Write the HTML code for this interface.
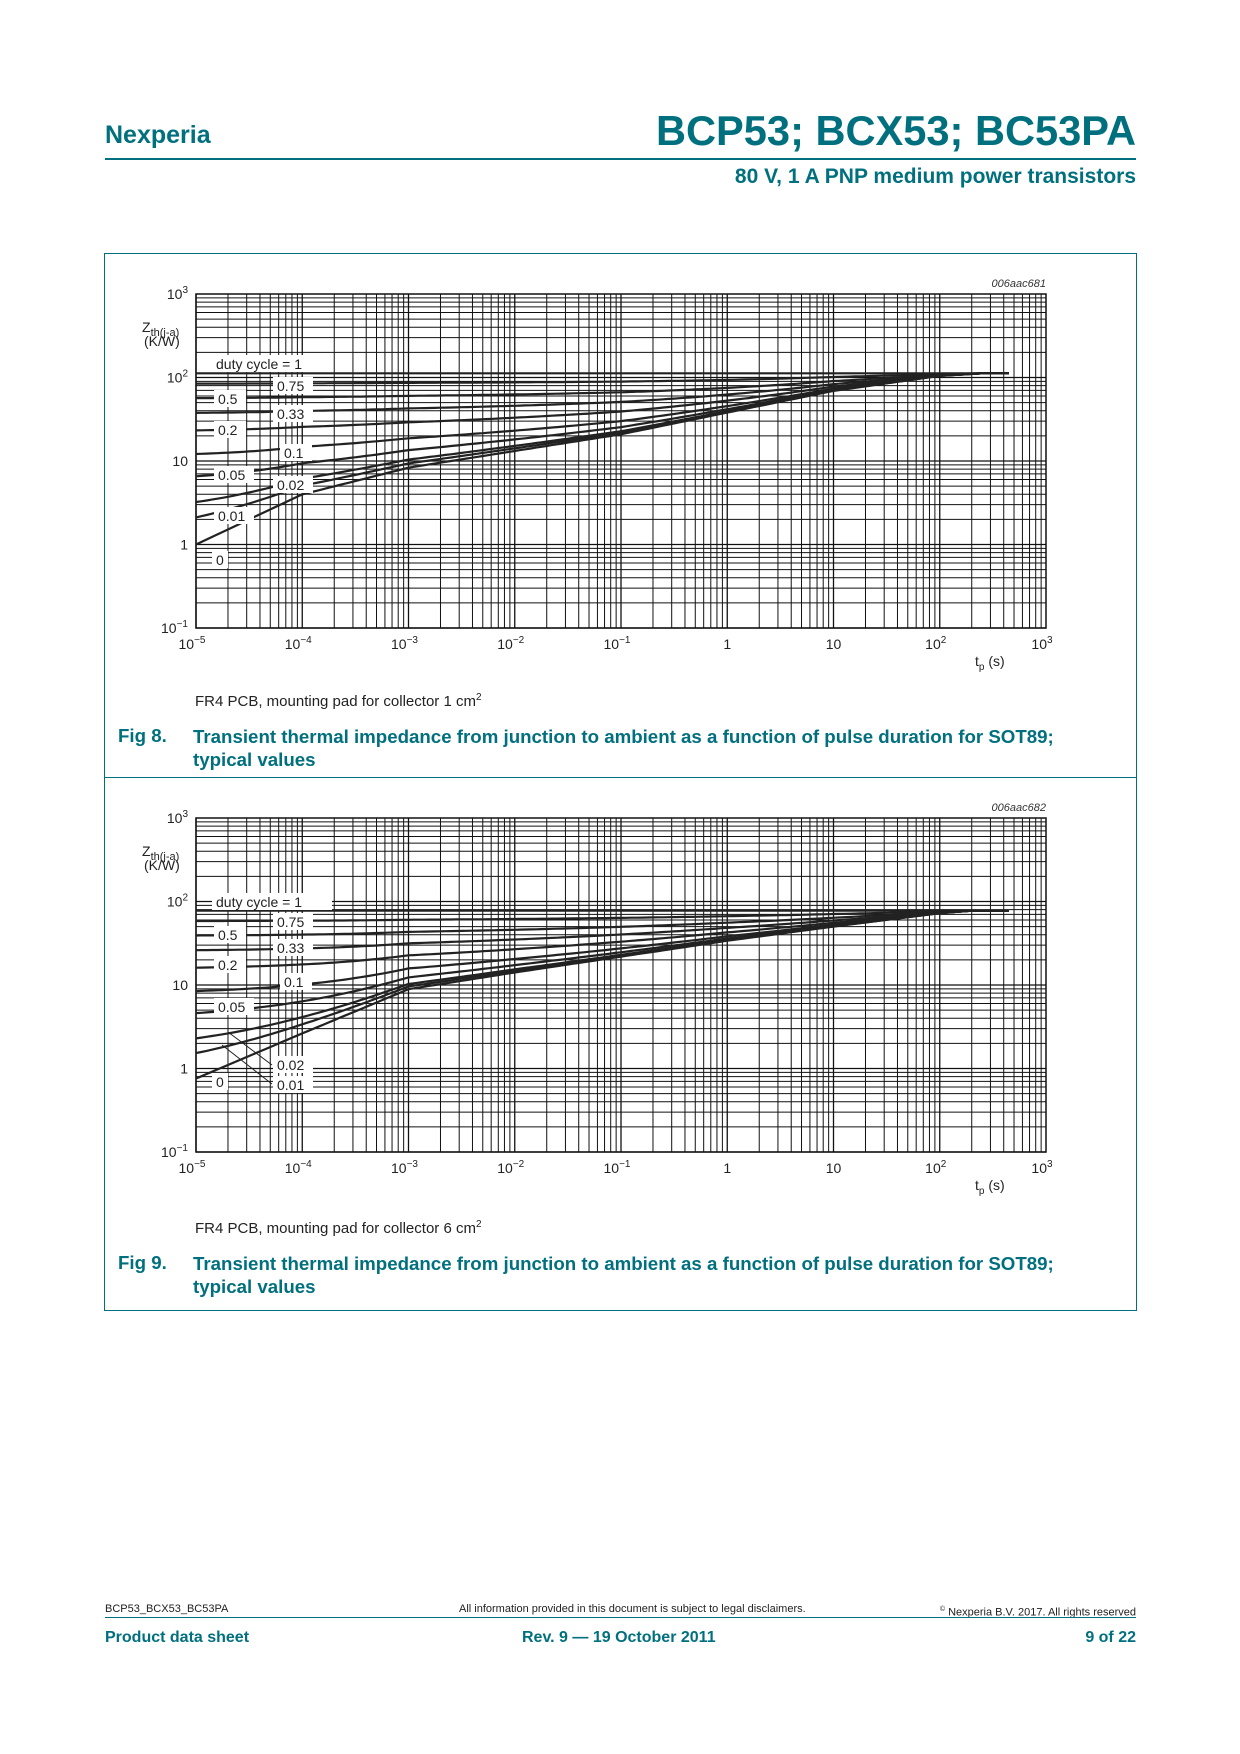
<!DOCTYPE html>
<html><head><meta charset="utf-8">
<style>
body{margin:0;background:#fff;width:1240px;height:1754px;position:relative;overflow:hidden;font-family:"Liberation Sans",Arial,sans-serif;}
.t{position:absolute;white-space:nowrap;color:#00707f;font-weight:bold;}
svg{position:absolute;left:0;top:0;}
</style></head><body>
<div class="t" style="left:105px;top:121px;font-size:25px;">Nexperia</div>
<div class="t" style="right:104px;top:107px;font-size:41.6px;">BCP53; BCX53; BC53PA</div>
<div style="position:absolute;left:105px;top:158px;width:1031px;height:2px;background:#00707f"></div>
<div class="t" style="right:104px;top:165px;font-size:21px;">80 V, 1 A PNP medium power transistors</div>

<div style="position:absolute;left:104px;top:253px;width:1031px;height:1056px;border:1px solid #00707f"></div>
<div style="position:absolute;left:104px;top:777px;width:1032px;height:1px;background:#00707f"></div>

<div style="position:absolute;left:195px;top:692px;font-size:15px;color:#222">FR4 PCB, mounting pad for collector 1 cm<sup style="font-size:10px">2</sup></div>
<div class="t" style="left:118px;top:725px;font-size:18.7px;">Fig 8.</div>
<div class="t" style="left:193px;top:725px;font-size:18.7px;line-height:23px;">Transient thermal impedance from junction to ambient as a function of pulse duration for SOT89;<br>typical values</div>

<div style="position:absolute;left:195px;top:1219px;font-size:15px;color:#222">FR4 PCB, mounting pad for collector 6 cm<sup style="font-size:10px">2</sup></div>
<div class="t" style="left:118px;top:1252px;font-size:18.7px;">Fig 9.</div>
<div class="t" style="left:193px;top:1252px;font-size:18.7px;line-height:23px;">Transient thermal impedance from junction to ambient as a function of pulse duration for SOT89;<br>typical values</div>

<div style="position:absolute;left:105px;top:1603px;font-size:11px;color:#222">BCP53_BCX53_BC53PA</div>
<div style="position:absolute;left:459px;top:1603px;font-size:11px;color:#222">All information provided in this document is subject to legal disclaimers.</div>
<div style="position:absolute;right:104px;top:1606px;font-size:11px;color:#222"><sup style="font-size:7px">©</sup> Nexperia B.V. 2017. All rights reserved</div>
<div style="position:absolute;left:105px;top:1617px;width:1031px;height:1px;background:#00707f"></div>
<div class="t" style="left:105px;top:1629px;font-size:16px;">Product data sheet</div>
<div class="t" style="left:522px;top:1629px;font-size:16px;">Rev. 9 — 19 October 2011</div>
<div class="t" style="right:104px;top:1629px;font-size:16px;">9 of 22</div>

<svg id="s" width="1240" height="1754" xmlns="http://www.w3.org/2000/svg"></svg>
<script>
var s=document.getElementById('s'),h='';
function chart(top,id,Rl,Z0,labels,extra){
 var L=196,R=1046,B=top+334,dx=106.25,dy=83.5;
 function X(l){return L+(l+5)*dx} function Y(l){return B-(l+1)*dy}
 for(var d=-5;d<3;d++)for(var k=1;k<10;k++){var x=X(d+Math.log10(k));h+='<line x1="'+x+'" y1="'+top+'" x2="'+x+'" y2="'+B+'" stroke="#111" stroke-width="'+(k==1?1.3:1)+'"/>';}
 for(var d=-1;d<3;d++)for(var k=1;k<10;k++){var y=Y(d+Math.log10(k));h+='<line x1="'+L+'" y1="'+y+'" x2="'+R+'" y2="'+y+'" stroke="#111" stroke-width="'+(k==1?1.3:1)+'"/>';}
 h+='<rect x="'+L+'" y="'+top+'" width="'+(R-L)+'" height="'+(B-top)+'" fill="none" stroke="#111" stroke-width="1.5"/>';
 var yl=[['10','−1',-1],['1','',0],['10','',1],['10','2',2],['10','3',3]];
 yl.forEach(function(a){h+='<text x="188" y="'+(Y(a[2])+5)+'" font-size="14" text-anchor="end" fill="#222">'+a[0]+(a[1]?'<tspan dy="-6" font-size="10">'+a[1]+'</tspan>':'')+'</text>';});
 var xl=[['10','−5'],['10','−4'],['10','−3'],['10','−2'],['10','−1'],['1',''],['10',''],['10','2'],['10','3']];
 xl.forEach(function(a,i){h+='<text x="'+(X(i-5)-(a[1]?4:0))+'" y="'+(B+21)+'" font-size="14" text-anchor="middle" fill="#222">'+a[0]+(a[1]?'<tspan dy="-6" font-size="10">'+a[1]+'</tspan>':'')+'</text>';});
 h+='<text x="975" y="'+(B+38)+'" font-size="14" fill="#222">t<tspan dy="4" font-size="10">p</tspan><tspan dy="-4"> (s)</tspan></text>';
 h+='<text x="142" y="'+(top+38)+'" font-size="14" fill="#222">Z<tspan dy="4" font-size="11">th(j-a)</tspan></text>';
 h+='<text x="144" y="'+(top+52)+'" font-size="14" fill="#222">(K/W)</text>';
 h+='<text x="1046" y="'+(top-7)+'" font-size="11" font-style="italic" text-anchor="end" fill="#333">'+id+'</text>';
 var Rth=Math.pow(10,Rl);
 function z0(l){for(var i=0;i<Z0.length-1;i++){if(l<=Z0[i+1][0]){var a=Z0[i],b=Z0[i+1];return a[1]+(b[1]-a[1])*(l-a[0])/(b[0]-a[0]);}}return Z0[Z0.length-1][1];}
 [1,0.75,0.5,0.33,0.2,0.1,0.05,0.02,0.01,0].forEach(function(D){
  var p='';for(var l=-5;l<=2.67;l+=0.05){var z=D*Rth+(1-D)*Math.pow(10,Math.min(z0(l),Rl));p+=(p?'L':'M')+X(l).toFixed(1)+','+Y(Math.log10(z)).toFixed(1);}
  h+='<path d="'+p+'" fill="none" stroke="#222" stroke-width="2.2"/>';});
 extra&&extra(X,Y);
 labels.forEach(function(a){var w=a[0].length*8+8;h+='<rect x="'+(a[1]-4)+'" y="'+(a[2]-9)+'" width="'+w+'" height="17" fill="#fff"/><text x="'+a[1]+'" y="'+(a[2]+5)+'" font-size="14" fill="#222">'+a[0]+'</text>';});
}
chart(294,'006aac681',2.05,[[-5,0],[-4,0.6],[-3,0.92],[-2,1.12],[-1,1.32],[0,1.58],[1,1.84],[2,2.02],[2.4,2.05]],
 [['duty cycle = 1',216,364],['0.75',277,386],['0.5',218,399],['0.33',277,414],['0.2',218,430],['0.1',284,453],['0.05',218,475],['0.02',277,485],['0.01',218,516],['0',216,560]]);
chart(818,'006aac682',1.89,[[-5,-0.12],[-4,0.42],[-3,0.95],[-2,1.15],[-1,1.34],[0,1.53],[1,1.7],[2,1.86],[2.3,1.89]],
 [['duty cycle = 1',216,902],['0.75',277,922],['0.5',218,935],['0.33',277,948],['0.2',218,965],['0.1',284,982],['0.05',218,1007],['0.02',277,1065],['0.01',277,1085],['0',216,1082]],
 function(X,Y){h+='<line x1="228" y1="1032" x2="272" y2="1065" stroke="#222"/><line x1="222" y1="1045" x2="272" y2="1084" stroke="#222"/>';});
s.innerHTML=h;
</script>
</body></html>
